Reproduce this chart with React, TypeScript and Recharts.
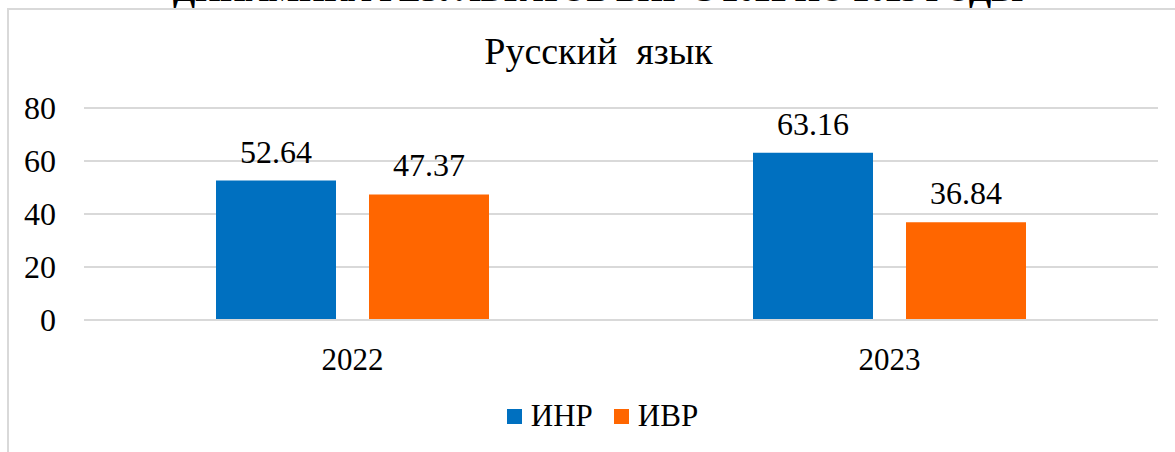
import { BarChart, Bar, XAxis, YAxis, CartesianGrid, LabelList, Legend } from 'recharts';

const years = ['2022', '2023'];
const inr = [52.64, 63.16];
const ivr = [47.37, 36.84];
const yTicks = [0, 20, 40, 60, 80];

const seriesList = [
  { key: 'inr', name: 'ИНР', color: '#0070C0' },
  { key: 'ivr', name: 'ИВР', color: '#FF6600' },
];

const data = years.map((year, i) => ({ year, inr: inr[i], ivr: ivr[i] }));

const FONT = "'Liberation Serif', 'DejaVu Serif', serif";

const LegendContent = () => (
  <div style={{ display: 'flex', justifyContent: 'center', alignItems: 'center', fontFamily: FONT, fontSize: 31, color: '#000' }}>
    {seriesList.map((s, i) => (
      <div key={s.key} style={{ display: 'flex', alignItems: 'center', marginLeft: i === 0 ? 0 : 21 }}>
        <span style={{ width: 15, height: 15, background: s.color, display: 'inline-block', marginRight: 9 }} />
        <span>{s.name}</span>
      </div>
    ))}
  </div>
);

export default function App() {
  return (
    <div style={{ position: 'absolute', left: 0, top: 0, width: 1175, height: 452, background: '#fff', overflow: 'hidden', fontFamily: FONT }}>
      <svg width={1175} height={20} style={{ position: 'absolute', left: 0, top: 0 }}>
        <text x={173} y={1} textLength={850} lengthAdjust="spacingAndGlyphs" style={{ fontFamily: FONT }} fontWeight="bold" fontSize={32} fill="#000">
          ДИНАМИКА РЕЗУЛЬТАТОВ ВПР С 2022 ПО 2023 ГОДЫ
        </text>
      </svg>
      <div style={{ position: 'absolute', left: 7, top: 8, width: 1175, height: 460, borderTop: '2px solid #d9d9d9', borderLeft: '2px solid #d9d9d9' }} />
      <div style={{ position: 'absolute', left: 0, top: 29, width: 1197, textAlign: 'center', fontFamily: FONT, fontSize: 38, color: '#000', whiteSpace: 'pre' }}>
        Русский  язык
      </div>
      <div style={{ position: 'absolute', left: 0, top: 0 }}>
        <BarChart width={1175} height={452} data={data} margin={{ top: 108, right: 17, bottom: 92, left: 0 }} barSize={120} barGap={33}
          style={{ fontFamily: FONT }}>
          <CartesianGrid vertical={false} stroke="#d9d9d9" strokeWidth={2} />
          <XAxis dataKey="year" axisLine={{ stroke: '#d9d9d9', strokeWidth: 2 }} tickLine={false} height={40}
            tick={{ fontFamily: FONT, fontSize: 31, fill: '#000' }} tickMargin={22} />
          <YAxis width={84} domain={[0, 80]} ticks={yTicks} axisLine={false} tickLine={false}
            tick={{ fontFamily: FONT, fontSize: 32, fill: '#000' }} tickMargin={22} />
          <Legend layout="horizontal" verticalAlign="middle" align="center" content={<LegendContent />}
            wrapperStyle={{ top: 398, left: 0, width: 1205 }} />
          {seriesList.map((s) => (
            <Bar key={s.key} dataKey={s.key} name={s.name} fill={s.color} isAnimationActive={false}>
              <LabelList dataKey={s.key} position="top" offset={18} style={{ fontFamily: FONT, fontSize: 32, fill: '#000' }} />
            </Bar>
          ))}
        </BarChart>
      </div>
    </div>
  );
}
